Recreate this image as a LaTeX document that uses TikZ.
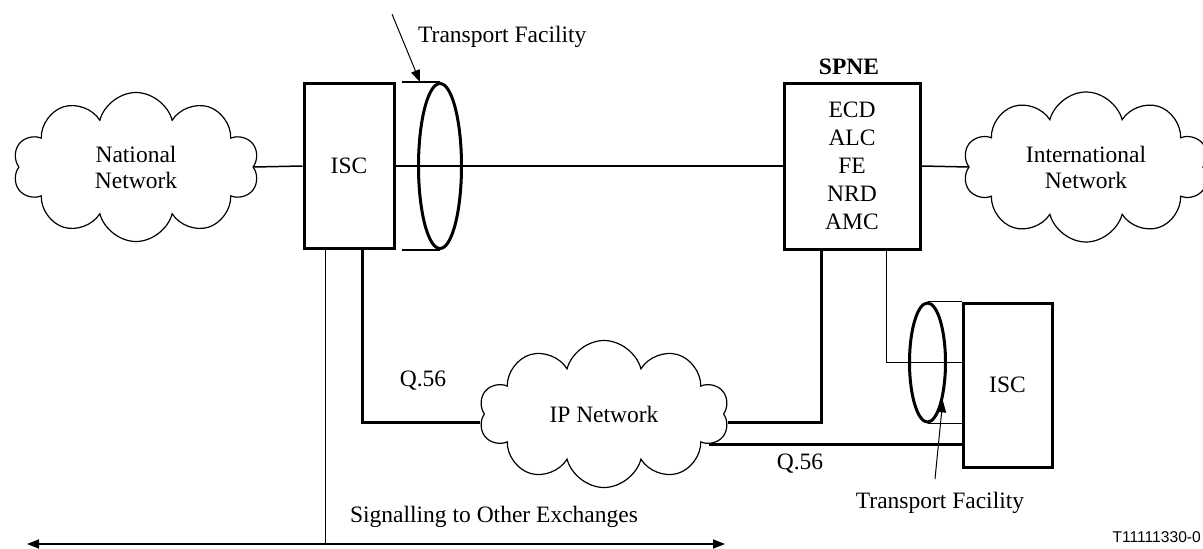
\documentclass[tikz,border=0pt]{standalone}
\usepackage{fontspec}
\setmainfont{Liberation Serif}
\newfontfamily\figsans{Liberation Sans}
\usetikzlibrary{shapes.geometric,shapes.symbols,arrows.meta,calc}

\begin{document}
\begin{tikzpicture}[x=1pt,y=-1pt,
  txt/.style={font=\fontsize{23.5}{26}\selectfont, inner sep=0},
  unit/.style={draw, line width=3pt, inner sep=0, txt},
  netcloud/.style={cloud, draw, line width=1.2pt, cloud puffs=10, cloud puff arc=150,
    cloud ignores aspect, inner sep=0, align=center, txt},
  link/.style={line width=1.5pt},
  sig/.style={line width=3pt},
  feed/.style={line width=1pt},
  facility/.style={ellipse, draw, line width=3pt, inner sep=0},
  tip/.style={-{Triangle[length=12pt,width=9pt]}, line width=1pt},
  tips/.style={{Triangle[length=12pt,width=9pt]}-{Triangle[length=12pt,width=9pt]}, line width=1.5pt},
]
\useasboundingbox (0,0) rectangle (1203,549);

% networks
\node[netcloud, minimum width=246, minimum height=149] (nat) at (136,167) {National\\Network};
\node[netcloud, minimum width=246, minimum height=150] (intl) at (1086,167) {International\\Network};
\node[netcloud, minimum width=250, minimum height=147] (ip) at (604,414) {IP Network};

% exchanges
\node[unit, minimum width=90, minimum height=165] (isc1) at (349,166) {ISC};
\node[unit, minimum width=136, minimum height=166, align=center,
      font=\fontsize{23.5}{28}\selectfont] (spne) at (852,166) {ECD\\ALC\\FE\\NRD\\AMC};
\node[txt, font=\bfseries\fontsize{23.5}{26}\selectfont] (spnet) at (849,67) {SPNE};
\node[unit, minimum width=89, minimum height=164] (isc2) at (1007.5,385) {ISC};

% transport facilities
\node[facility, minimum width=43, minimum height=165] (tf1) at (440,166) {};
\node[facility, minimum width=36, minimum height=119] (tf2) at (927.5,362.5) {};

% labels
\node[txt, anchor=base west] (tft) at (418,42) {Transport Facility};
\node[txt] (tfb) at (940,503) {Transport Facility};
\node[txt] (q1) at (423,381) {Q.56};
\node[txt] (q2) at (800,464) {Q.56};
\node[txt] (sigtxt) at (494,517) {Signalling to Other Exchanges};
\node[font=\figsans\fontsize{15.6}{18}\selectfont, anchor=east, inner sep=0] (fig) at (1201,537) {T11111330-0};

% trunk connections
\draw[link] (nat.east) -- (isc1.west);
\draw[link] (isc1.east) -- (spne.west);
\draw[link] (spne.east) -- (intl.west);
\draw[link] (tf1.north) -- ++(-38,0);
\draw[link] (tf1.south) -- ++(-38,0);
\draw[link] (tf2.north) -- (tf2.north -| isc2.west);
\draw[link] (tf2.south) -- (tf2.south -| isc2.west);
\draw[feed] ([xshift=-35pt]spne.south east) |- (tf2.center -| isc2.west);

% signalling
\coordinate (sigL) at (27,544);
\coordinate (sigR) at (725,544);
\draw[tips] (sigL) -- (sigR);
\draw[link] ([xshift=23pt]isc1.south west) -- ([xshift=23pt]isc1.south west |- sigL);
\draw[sig] ([xshift=60pt]isc1.south west) |- (ip.184);
\draw[sig] (ip.356) -| ([xshift=39pt]spne.south west);
\draw[sig] (ip.-16) -- (ip.-16 -| isc2.west);

% facility pointers
\coordinate (tfa) at (392,14);
\draw[tip] (tfa) -- ($(tf1.north)+(-20,0)$);
\coordinate (tfc) at (935,479);
\draw[tip] (tfc) -- (tf2.-68);
\end{tikzpicture}
\end{document}
